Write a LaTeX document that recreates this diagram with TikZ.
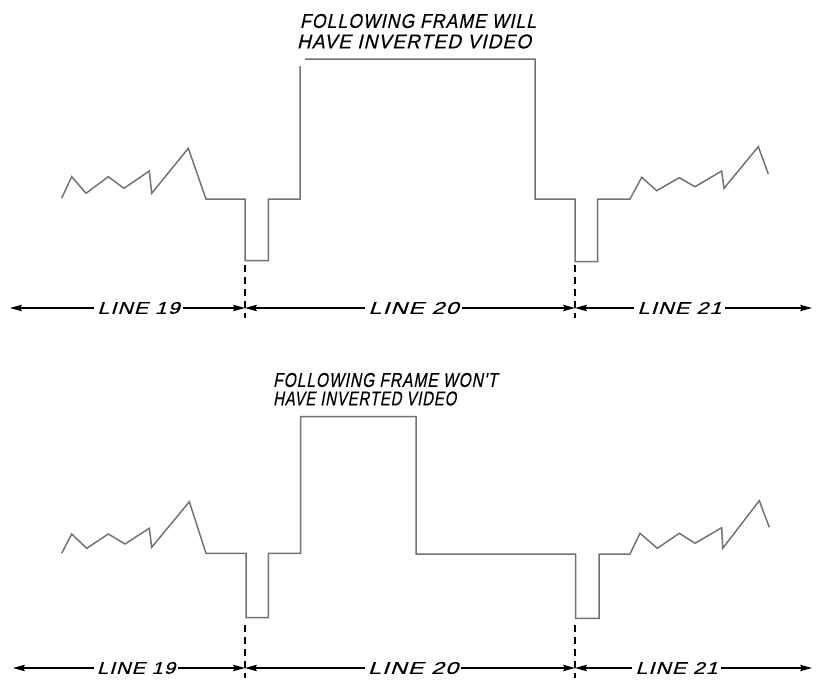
\documentclass[tikz,border=0pt]{standalone}
\usepackage{fontspec}
\setmainfont{Liberation Sans}
\newfontfamily\handfont[FakeBold=0.5,FakeSlant=0.25,LetterSpace=6]{Liberation Sans}
\usetikzlibrary{arrows.meta}
\newcommand\fitw[2]{\resizebox{#1}{\height}{#2}}
\begin{document}
\begin{tikzpicture}[x=1pt,y=-1pt,
  wave/.style={draw=black!55,line width=1.5pt,line join=miter},
  dim/.style={draw=black,line width=1.1pt,-{Stealth[length=12pt,width=6.5pt,inset=2pt]}},
  sep/.style={draw=black,line width=1.1pt,dash pattern=on 7pt off 5pt},
  lbl/.style={font=\handfont\fontsize{17}{17}\selectfont,inner sep=3pt,anchor=center},
  captxt/.style={font=\handfont\fontsize{20}{21}\selectfont,inner sep=0pt,align=left}]
\useasboundingbox (0,0) rectangle (817,680);

% ---------- top diagram ----------
\node[captxt] (tcap1) at (418,21) {\fitw{236pt}{FOLLOWING FRAME WILL}};
\node[captxt] (tcap2) at (414,41.5) {\fitw{234pt}{HAVE INVERTED VIDEO}};

\draw[wave] (61.7,198) -- (71.7,176.7) -- (86,193.3) -- (108.3,176.7) -- (124,188.3)
  -- (149.3,171) -- (151.7,193.3) -- (188.3,148.3) -- (206,199) -- (245,199)
  -- (245,260.7) -- (268.3,260.7) -- (268.3,199) -- (300,199) -- (300,66);
\draw[wave] (305,59) -- (535,59) -- (535,199) -- (575,199) -- (575,261.7)
  -- (597.7,261.7) -- (597.7,199) -- (630,199) -- (641.7,177.3) -- (656.7,190.7)
  -- (679.3,177.7) -- (695,186.7) -- (721.7,171) -- (724,188.3) -- (758.3,146.7)
  -- (768.3,174);

\coordinate (ta) at (245,265);
\coordinate (tb) at (245,318);
\coordinate (tc) at (575,265);
\coordinate (td) at (575,318);
\draw[sep] (ta) -- (tb);
\draw[sep] (tc) -- (td);

\coordinate (tL) at (10,308);
\coordinate (tR) at (812,308);
\coordinate (tm1) at (245,308);
\coordinate (tm2) at (575,308);
\node[lbl] (t19) at (138.5,308) {\fitw{82pt}{LINE 19}};
\node[lbl] (t20) at (413.5,308) {\fitw{90pt}{LINE 20}};
\node[lbl] (t21) at (679.5,308) {\fitw{84pt}{LINE 21}};
\draw[dim] (t19.west) -- (tL);
\draw[dim] (t19.east) -- (tm1);
\draw[dim] (t20.west) -- (tm1);
\draw[dim] (t20.east) -- (tm2);
\draw[dim] (t21.west) -- (tm2);
\draw[dim] (t21.east) -- (tR);

% ---------- bottom diagram ----------
\node[captxt,anchor=west] (bcap1) at (273,380) {\fitw{224pt}{FOLLOWING FRAME WON'T}};
\node[captxt,anchor=west] (bcap2) at (273,398.5) {\fitw{183pt}{HAVE INVERTED VIDEO}};

\draw[wave] (61.7,553.3) -- (71.7,534) -- (86.7,548.3) -- (108.3,534) -- (125,544)
  -- (149.3,528.3) -- (151.7,547.3) -- (189.3,501.7) -- (206,553.3) -- (246,553.3)
  -- (246,617.7) -- (268.3,617.7) -- (268.3,553.3) -- (300.7,553.3) -- (300.7,416.5)
  -- (416,416.5) -- (416,554) -- (575.7,554) -- (575.7,618.3) -- (599,618.3)
  -- (599,554) -- (630,554) -- (640,533.3) -- (657.3,548.3) -- (679.3,533.3)
  -- (695,543.3) -- (721.7,527.7) -- (722.7,548.3) -- (759.3,500.7) -- (769.3,527.3);

\coordinate (ba) at (245,625);
\coordinate (bb) at (245,678);
\coordinate (bc) at (575,625);
\coordinate (bd) at (575,678);
\draw[sep] (ba) -- (bb);
\draw[sep] (bc) -- (bd);

\coordinate (bL) at (13,668);
\coordinate (bR) at (812,668);
\coordinate (bm1) at (245,668);
\coordinate (bm2) at (575,668);
\node[lbl] (b19) at (136,668) {\fitw{78pt}{LINE 19}};
\node[lbl] (b20) at (413,668) {\fitw{90pt}{LINE 20}};
\node[lbl] (b21) at (676.5,668) {\fitw{82pt}{LINE 21}};
\draw[dim] (b19.west) -- (bL);
\draw[dim] (b19.east) -- (bm1);
\draw[dim] (b20.west) -- (bm1);
\draw[dim] (b20.east) -- (bm2);
\draw[dim] (b21.west) -- (bm2);
\draw[dim] (b21.east) -- (bR);
\end{tikzpicture}
\end{document}
